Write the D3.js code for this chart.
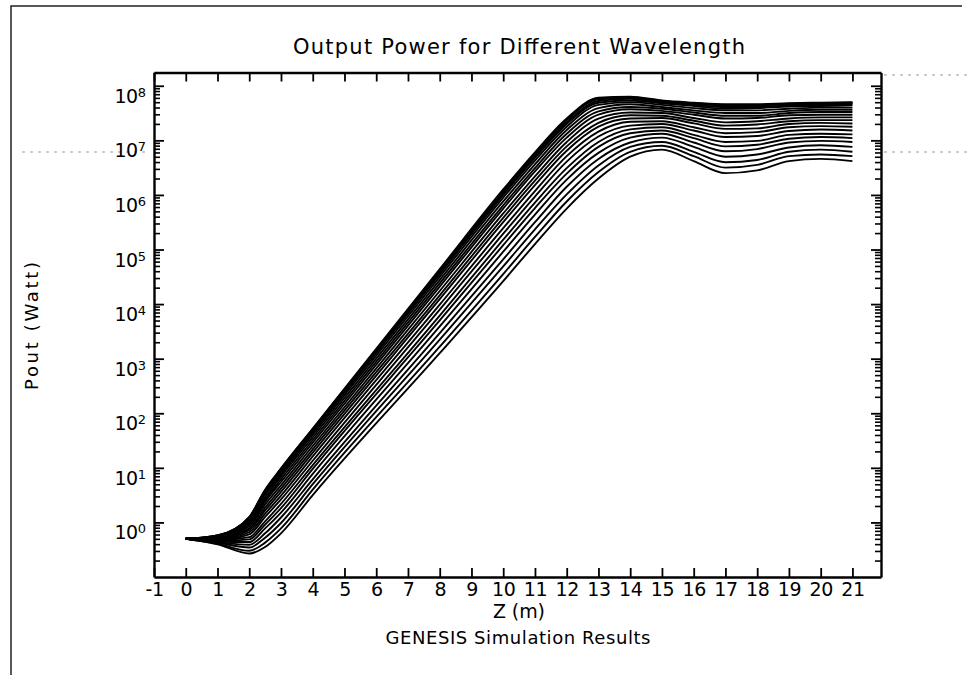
<!DOCTYPE html>
<html>
<head>
<meta charset="utf-8">
<script src="https://cdn.jsdelivr.net/npm/d3@7"></script>
<style>
  body { margin: 0; background: #fff; }
  svg { display: block; }
  text { font-family: "DejaVu Sans", sans-serif; fill: #000; }
</style>
</head>
<body>
<svg id="chart" width="967" height="675"></svg>
<script>
// z positions (m) where the curves were read
const zGrid = [0, 1, 2, 2.5, 3, 4, 8, 10, 11, 12, 13, 14, 15, 16, 17, 18, 19, 20, 21];

// exponent of Pout (W) for each wavelength, top curve first
const poutExp = [
  [-0.30, -0.24,  0.10, 0.60, 0.99, 1.72, 4.64, 6.10, 6.78, 7.40, 7.78, 7.80, 7.73, 7.69, 7.66, 7.66, 7.68, 7.69, 7.70],
  [-0.30, -0.24,  0.09, 0.59, 0.98, 1.71, 4.62, 6.08, 6.76, 7.38, 7.77, 7.79, 7.72, 7.68, 7.65, 7.65, 7.67, 7.68, 7.69],
  [-0.30, -0.24,  0.09, 0.58, 0.97, 1.70, 4.61, 6.07, 6.75, 7.37, 7.75, 7.78, 7.71, 7.67, 7.64, 7.64, 7.66, 7.67, 7.68],
  [-0.30, -0.25,  0.07, 0.56, 0.94, 1.67, 4.58, 6.03, 6.71, 7.33, 7.72, 7.76, 7.69, 7.65, 7.61, 7.61, 7.64, 7.65, 7.66],
  [-0.30, -0.25,  0.06, 0.54, 0.92, 1.65, 4.55, 6.00, 6.68, 7.30, 7.69, 7.73, 7.68, 7.63, 7.58, 7.59, 7.62, 7.63, 7.64],
  [-0.30, -0.25,  0.04, 0.51, 0.88, 1.61, 4.50, 5.95, 6.63, 7.25, 7.65, 7.70, 7.65, 7.59, 7.55, 7.55, 7.58, 7.60, 7.60],
  [-0.30, -0.26,  0.01, 0.46, 0.84, 1.56, 4.44, 5.88, 6.56, 7.19, 7.59, 7.66, 7.61, 7.55, 7.50, 7.50, 7.54, 7.56, 7.56],
  [-0.30, -0.27, -0.01, 0.42, 0.79, 1.51, 4.38, 5.81, 6.49, 7.12, 7.53, 7.61, 7.58, 7.51, 7.45, 7.45, 7.50, 7.52, 7.52],
  [-0.30, -0.27, -0.04, 0.38, 0.74, 1.46, 4.32, 5.75, 6.43, 7.05, 7.47, 7.57, 7.54, 7.47, 7.40, 7.41, 7.46, 7.47, 7.47],
  [-0.30, -0.28, -0.07, 0.33, 0.68, 1.40, 4.24, 5.66, 6.34, 6.97, 7.40, 7.51, 7.50, 7.41, 7.33, 7.35, 7.40, 7.42, 7.42],
  [-0.30, -0.29, -0.11, 0.27, 0.62, 1.34, 4.16, 5.58, 6.26, 6.89, 7.32, 7.46, 7.45, 7.36, 7.27, 7.29, 7.35, 7.37, 7.37],
  [-0.30, -0.30, -0.14, 0.22, 0.56, 1.28, 4.09, 5.50, 6.18, 6.81, 7.25, 7.40, 7.41, 7.31, 7.21, 7.22, 7.30, 7.32, 7.31],
  [-0.30, -0.31, -0.18, 0.16, 0.49, 1.21, 3.99, 5.39, 6.07, 6.71, 7.16, 7.34, 7.35, 7.24, 7.13, 7.15, 7.24, 7.26, 7.25],
  [-0.30, -0.32, -0.22, 0.10, 0.42, 1.13, 3.90, 5.29, 5.97, 6.61, 7.07, 7.27, 7.30, 7.18, 7.06, 7.08, 7.17, 7.20, 7.18],
  [-0.30, -0.33, -0.27, 0.02, 0.34, 1.05, 3.79, 5.18, 5.86, 6.49, 6.97, 7.20, 7.24, 7.10, 6.97, 6.99, 7.10, 7.12, 7.11],
  [-0.30, -0.34, -0.31, -0.04, 0.26, 0.98, 3.70, 5.08, 5.76, 6.39, 6.88, 7.13, 7.18, 7.04, 6.89, 6.92, 7.03, 7.06, 7.04],
  [-0.30, -0.35, -0.36, -0.11, 0.18, 0.89, 3.59, 4.96, 5.64, 6.28, 6.77, 7.05, 7.12, 6.96, 6.80, 6.84, 6.96, 6.99, 6.97],
  [-0.30, -0.36, -0.41, -0.20, 0.09, 0.79, 3.47, 4.82, 5.50, 6.15, 6.66, 6.96, 7.05, 6.88, 6.70, 6.74, 6.87, 6.91, 6.88],
  [-0.30, -0.37, -0.46, -0.28, -0.01, 0.70, 3.35, 4.69, 5.37, 6.01, 6.54, 6.88, 6.97, 6.79, 6.60, 6.64, 6.79, 6.83, 6.79],
  [-0.30, -0.39, -0.52, -0.37, -0.11, 0.60, 3.22, 4.55, 5.23, 5.88, 6.42, 6.79, 6.90, 6.71, 6.50, 6.55, 6.71, 6.74, 6.71],
  [-0.30, -0.40, -0.57, -0.45, -0.20, 0.50, 3.10, 4.42, 5.10, 5.75, 6.30, 6.70, 6.83, 6.62, 6.40, 6.45, 6.62, 6.66, 6.62]
];

const xTickValues = [-1, 0, 1, 2, 3, 4, 5, 6, 7, 8, 9, 10, 11, 12, 13, 14, 15, 16, 17, 18, 19, 20, 21];
const yDecades = [0, 1, 2, 3, 4, 5, 6, 7, 8];
const minorSteps = [2, 3, 4, 5, 6, 7, 8, 9];

const svg = d3.select("#chart");
const plotLeft = 154, plotRight = 881, plotTop = 72.5, plotBottom = 577;

// page frame of the scanned sheet
svg.append("path")
  .attr("d", "M11,675V6H962")
  .attr("fill", "none").attr("stroke", "#222").attr("stroke-width", 1.5);
svg.append("g").attr("stroke", "#999").attr("stroke-width", 1).attr("stroke-dasharray", "3,5")
  .selectAll("line")
  .data([[22, 150, 152], [884, 967, 152], [884, 967, 75]])
  .enter().append("line")
  .attr("x1", d => d[0]).attr("x2", d => d[1])
  .attr("y1", d => d[2]).attr("y2", d => d[2]);

const x = d3.scaleLinear().domain([-1, 21.9]).range([plotLeft, plotRight]);
const y = d3.scaleLog().domain([0.1, 1.75e8]).range([plotBottom, plotTop]);

const majorY = yDecades.map(d => Math.pow(10, d));
const minorY = [-1].concat(yDecades).flatMap(d => minorSteps.map(m => m * Math.pow(10, d)))
  .filter(v => v < 1.75e8);

// curves
const line = d3.line()
  .x(d => x(d[0]))
  .y(d => y(Math.pow(10, d[1])))
  .curve(d3.curveMonotoneX);

svg.append("g")
  .selectAll("path")
  .data(poutExp)
  .enter().append("path")
  .attr("d", row => line(row.map((v, i) => [zGrid[i], v])))
  .attr("fill", "none")
  .attr("stroke", "#000")
  .attr("stroke-width", 1.9);

// axes
function styleAxis(g) {
  g.select(".domain").attr("stroke-width", 2.4);
  g.selectAll(".tick line").attr("stroke-width", 1.8);
}

svg.append("g")
  .attr("transform", `translate(0,${plotBottom})`)
  .call(d3.axisBottom(x).tickValues(xTickValues).tickSizeInner(-9).tickSizeOuter(0).tickPadding(6)
    .tickFormat(d => String(d)))
  .call(styleAxis)
  .call(g => g.selectAll("text").attr("font-size", 19).attr("letter-spacing", -0.5)
    .style("font-family", "DejaVu Sans"));

svg.append("g")
  .attr("transform", `translate(0,${plotTop})`)
  .call(d3.axisTop(x).tickValues(xTickValues).tickSizeInner(-9).tickSizeOuter(0).tickFormat(""))
  .call(styleAxis);

[[d3.axisLeft, plotLeft], [d3.axisRight, plotRight]].forEach(([axisFn, xPos]) => {
  svg.append("g")
    .attr("transform", `translate(${xPos},0)`)
    .call(axisFn(y).tickValues(majorY).tickSizeInner(-10).tickSizeOuter(0).tickFormat(""))
    .call(styleAxis);
  svg.append("g")
    .attr("transform", `translate(${xPos},0)`)
    .call(axisFn(y).tickValues(minorY).tickSizeInner(-6).tickSizeOuter(0).tickFormat(""))
    .call(g => g.select(".domain").remove())
    .call(g => g.selectAll(".tick line").attr("stroke-width", 1.6));
});

// y tick labels 10^n
const yLab = svg.append("g").selectAll("text")
  .data(yDecades)
  .enter().append("text")
  .attr("x", 146)
  .attr("y", d => y(Math.pow(10, d)) + 17)
  .attr("text-anchor", "end")
  .attr("font-size", 19);
yLab.append("tspan").attr("letter-spacing", -0.5).text("10");
yLab.append("tspan").attr("font-size", 13).attr("dy", -6).text(d => d);

// titles
svg.append("text").attr("x", 519).attr("y", 54).attr("text-anchor", "middle")
  .attr("font-size", 21).attr("textLength", 452).attr("lengthAdjust", "spacing")
  .text("Output Power for Different Wavelength");
svg.append("text").attr("x", 519).attr("y", 618).attr("text-anchor", "middle")
  .attr("font-size", 19).attr("textLength", 52).attr("lengthAdjust", "spacing")
  .text("Z (m)");
svg.append("text").attr("x", 518).attr("y", 644).attr("text-anchor", "middle")
  .attr("font-size", 18).attr("textLength", 265).attr("lengthAdjust", "spacing")
  .text("GENESIS Simulation Results");
svg.append("text")
  .attr("transform", "translate(38,326) rotate(-90)")
  .attr("text-anchor", "middle")
  .attr("font-size", 18).attr("textLength", 128).attr("lengthAdjust", "spacing")
  .text("Pout (Watt)");
</script>
</body>
</html>
